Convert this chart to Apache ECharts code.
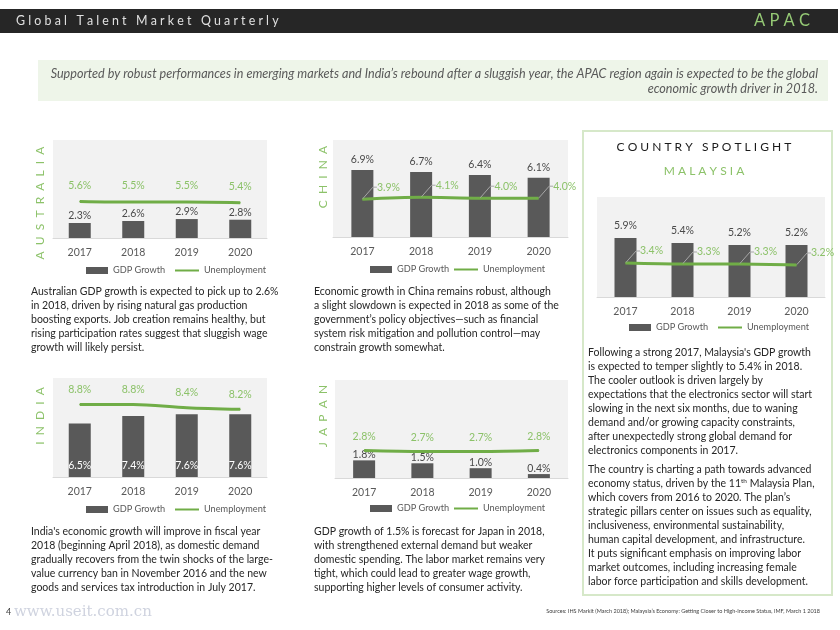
<!DOCTYPE html>
<html><head><meta charset="utf-8">
<script src="https://cdn.jsdelivr.net/npm/echarts@6/dist/echarts.min.js"></script>
<style>html,body{margin:0;padding:0;background:#fff}#c{width:840px;height:630px}</style>
</head><body><div id="c"></div>
<script>
// ---- data ----
var years = ['2017', '2018', '2019', '2020'];
var ausGdp = [2.3, 2.6, 2.9, 2.8];
var ausUnemp = [5.6, 5.5, 5.5, 5.4];
var chnGdp = [6.9, 6.7, 6.4, 6.1];
var chnUnemp = [3.9, 4.1, 4.0, 4.0];
var myGdp = [5.9, 5.4, 5.2, 5.2];
var myUnemp = [3.4, 3.3, 3.3, 3.2];
var indGdp = [6.5, 7.4, 7.6, 7.6];
var indUnemp = [8.8, 8.8, 8.4, 8.2];
var jpnGdp = [1.8, 1.5, 1.0, 0.4];
var jpnUnemp = [2.8, 2.7, 2.7, 2.8];
var seriesNames = ['GDP Growth', 'Unemployment'];

// ---- styles ----
var FONT = 'Lato';
var BAR = '#595959';
var LINE = '#70ad47';
var GLAB = '#8cc269';
var TXT = '#262626';

var panels = [
  {key: 'aus', gdp: ausGdp, un: ausUnemp, grid: {left: 53, top: 140, width: 214, height: 98}, max: 15,
   gdpLabel: {position: 'top', distance: 2}, unLabel: {position: 'top', distance: 10}, callout: false, smooth: 0.3,
   legend: [86, 175, 272]},
  {key: 'chn', gdp: chnGdp, un: chnUnemp, grid: {left: 333, top: 140, width: 235, height: 97}, max: 10,
   gdpLabel: {position: 'top', distance: 5}, unLabel: null, callout: true, smooth: 0.3,
   legend: [370, 454, 271]},
  {key: 'my', gdp: myGdp, un: myUnemp, grid: {left: 597, top: 197, width: 228, height: 100}, max: 10,
   gdpLabel: {position: 'top', distance: 7}, unLabel: null, callout: true, smooth: 0.3,
   legend: [629, 718, 329]},
  {key: 'ind', gdp: indGdp, un: indUnemp, grid: {left: 53, top: 378, width: 214, height: 99}, max: 12,
   gdpLabel: {position: 'insideBottom', distance: 6, color: '#ffffff'}, unLabel: {position: 'top', distance: 9}, callout: false, smooth: 0.3,
   legend: [86, 175, 511]},
  {key: 'jpn', gdp: jpnGdp, un: jpnUnemp, grid: {left: 335, top: 380, width: 233, height: 98}, max: 10,
   gdpLabel: {position: 'top', distance: 0}, unLabel: {position: 'top', distance: 8}, callout: false, smooth: 0.3,
   legend: [370, 454, 510]}
];

var grids = [], xAxes = [], yAxes = [], series = [], legends = [];
panels.forEach(function (p, i) {
  grids.push(Object.assign({show: true, backgroundColor: '#f2f2f2', borderWidth: 0}, p.grid));
  xAxes.push({type: 'category', gridIndex: i, data: years,
    axisLine: {lineStyle: {color: '#d9d9d9', width: 1}}, axisTick: {show: false},
    axisLabel: {color: '#595959', fontFamily: FONT, fontSize: 10.5, margin: 9}});
  yAxes.push({type: 'value', gridIndex: i, min: 0, max: p.max, show: false, splitLine: {show: false}});
  series.push({name: seriesNames[0], type: 'bar', xAxisIndex: i, yAxisIndex: i, data: p.gdp,
    barWidth: 22, itemStyle: {color: BAR}, silent: true,
    label: {show: true, position: p.gdpLabel.position, distance: p.gdpLabel.distance,
      color: p.gdpLabel.color || '#4a4a4a', fontFamily: FONT, fontSize: 10.5,
      formatter: function (d) { return d.value.toFixed(1) + '%'; }}});
  var ls = {name: seriesNames[1], type: 'line', xAxisIndex: i, yAxisIndex: i, data: p.un,
    smooth: p.smooth, symbol: 'circle', symbolSize: 1, itemStyle: {color: LINE},
    lineStyle: {color: LINE, width: 3}, silent: true, z: 3};
  if (p.callout) {
    ls.label = {show: true, position: 'right', distance: 10, color: GLAB, fontFamily: FONT, fontSize: 10.5,
      formatter: function (d) { return d.value.toFixed(1) + '%'; }};
    ls.labelLayout = {dx: 4, dy: -12};
    ls.labelLine = {show: true, length2: 4, lineStyle: {color: '#a6a6a6', width: 1}};
  } else {
    ls.label = {show: true, position: p.unLabel.position, distance: p.unLabel.distance, color: GLAB,
      fontFamily: FONT, fontSize: 10.5, formatter: function (d) { return d.value.toFixed(1) + '%'; }};
  }
  series.push(ls);
  var lx = p.legend;
  legends.push({data: [{name: seriesNames[0], icon: 'rect'}], left: lx[0], top: lx[2] - 6, padding: 0,
    itemWidth: 22, itemHeight: 7, selectedMode: false,
    textStyle: {color: '#595959', fontFamily: FONT, fontSize: 9.2}});
  legends.push({data: [{name: seriesNames[1], icon: 'rect', itemStyle: {color: LINE}}], left: lx[1], top: lx[2] - 6, padding: 0,
    itemWidth: 24, itemHeight: 2, selectedMode: false,
    textStyle: {color: '#595959', fontFamily: FONT, fontSize: 9.2}});
});

function txt(x, y, text, o) {
  o = o || {};
  return {type: 'text', x: x, y: y, rotation: o.rotation || 0, silent: true, z: 10,
    style: Object.assign({text: text, fill: o.fill || TXT, fontFamily: o.font || FONT, fontSize: o.size || 10.5,
      fontStyle: o.italic ? 'italic' : 'normal', textAlign: o.align || 'left',
      textVerticalAlign: o.valign || 'middle', lineHeight: o.lh || 14}, o.extra || {})};
}

var graphics = [
  {type: 'rect', shape: {x: 0, y: 9, width: 838, height: 24}, style: {fill: '#262626'}, silent: true},
  txt(16, 21, 'G l o b a l   T a l e n t   M a r k e t   Q u a r t e r l y', {fill: '#e0e0e0', size: 12.4}),
  txt(810, 21, 'A P A C', {fill: '#95c975', size: 16.5, align: 'right'}),
  {type: 'rect', shape: {x: 38, y: 60, width: 790, height: 41}, style: {fill: '#eef5e9'}, silent: true},
  txt(818, 74, 'Supported by robust performances in emerging markets and India\u2019s rebound after a sluggish year, the APAC region again is expected to be the global', {fill: '#595959', size: 12.6, italic: true, align: 'right'}),
  txt(818, 89, 'economic growth driver in 2018.', {fill: '#595959', size: 12.6, italic: true, align: 'right'}),
  // spotlight box
  {type: 'rect', shape: {x: 583, y: 131, width: 249, height: 464}, style: {fill: 'none', stroke: '#d6e8c9', lineWidth: 2}, silent: true},
  txt(704, 147, 'C O U N T R Y   S P O T L I G H T', {fill: '#1a1a1a', size: 12, align: 'center'}),
  txt(704, 171, 'M A L A Y S I A', {fill: GLAB, size: 12, align: 'center'}),
  // vertical country labels
  txt(40, 203, 'A  U  S  T  R  A  L  I  A', {fill: GLAB, size: 12, align: 'center', rotation: Math.PI / 2}),
  txt(323, 177, 'C  H  I  N  A', {fill: GLAB, size: 12, align: 'center', rotation: Math.PI / 2}),
  txt(40, 416, 'I  N  D  I  A', {fill: GLAB, size: 12, align: 'center', rotation: Math.PI / 2}),
  txt(323, 416, 'J  A  P  A  N', {fill: GLAB, size: 12, align: 'center', rotation: Math.PI / 2}),
  // paragraphs
  txt(31, 285, 'Australian GDP growth is expected to pick up to 2.6%\nin 2018, driven by rising natural gas production\nboosting exports. Job creation remains healthy, but\nrising participation rates suggest that sluggish wage\ngrowth will likely persist.', {valign: 'top'}),
  txt(314, 285, 'Economic growth in China remains robust, although\na slight slowdown is expected in 2018 as some of the\ngovernment\u2019s policy objectives\u2014such as financial\nsystem risk mitigation and pollution control\u2014may\nconstrain growth somewhat.', {valign: 'top'}),
  txt(31, 525, 'India\'s economic growth will improve in fiscal year\n2018 (beginning April 2018), as domestic demand\ngradually recovers from the twin shocks of the large-\nvalue currency ban in November 2016 and the new\ngoods and services tax introduction in July 2017.', {valign: 'top'}),
  txt(314, 525, 'GDP growth of 1.5% is forecast for Japan in 2018,\nwith strengthened external demand but weaker\ndomestic spending. The labor market remains very\ntight, which could lead to greater wage growth,\nsupporting higher levels of consumer activity.', {valign: 'top'}),
  txt(588, 346, 'Following a strong 2017, Malaysia\'s GDP growth\nis expected to temper slightly to 5.4% in 2018.\nThe cooler outlook is driven largely by\nexpectations that the electronics sector will start\nslowing in the next six months, due to waning\ndemand and/or growing capacity constraints,\nafter unexpectedly strong global demand for\nelectronics components in 2017.', {valign: 'top'}),
  {type: 'text', x: 588, y: 463, silent: true, z: 10, style: {
    text: '{n|The country is charting a path towards advanced}\n{n|economy status, driven by the 11}{s|th}{n| Malaysia Plan,}\n{n|which covers from 2016 to 2020. The plan\u2019s}\n{n|strategic pillars center on issues such as equality,}\n{n|inclusiveness, environmental sustainability,}\n{n|human capital development, and infrastructure.}\n{n|It puts significant emphasis on improving labor}\n{n|market outcomes, including increasing female}\n{n|labor force participation and skills development.}',
    fill: TXT, fontFamily: FONT, fontSize: 10.5, textAlign: 'left', textVerticalAlign: 'top', lineHeight: 14,
    rich: {n: {fontFamily: FONT, fontSize: 10.5, lineHeight: 14, fill: TXT},
           s: {fontFamily: FONT, fontSize: 6.5, lineHeight: 14, fill: TXT, verticalAlign: 'top', padding: [0, 0, 6, 0]}}}},
  // footer
  txt(6, 612, '4', {fill: '#404040', size: 9}),
  txt(14, 612, 'www.useit.com.cn', {fill: '#cfd3df', size: 15, font: 'DejaVu Serif'}),
  txt(820, 611, 'Sources: IHS Markit (March 2018); Malaysia\u2019s Economy: Getting Closer to High-Income Status, IMF, March 1 2018', {fill: '#404040', size: 5.5, align: 'right'})
];

var chart = echarts.init(document.getElementById('c'), null, {renderer: 'canvas'});
chart.setOption({
  animation: false,
  backgroundColor: '#ffffff',
  grid: grids, xAxis: xAxes, yAxis: yAxes, series: series, legend: legends,
  graphic: graphics
});
</script></body></html>
